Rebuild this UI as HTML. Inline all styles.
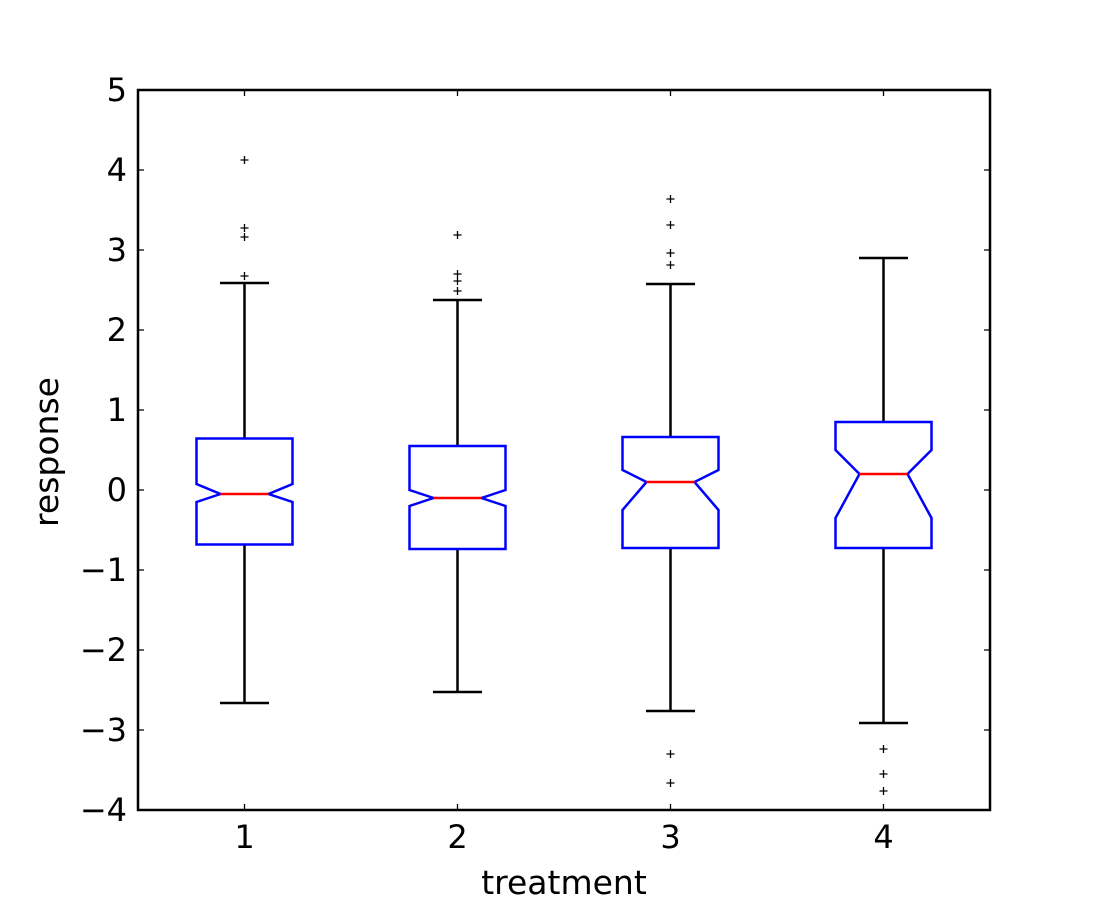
<!DOCTYPE html>
<html><head><meta charset="utf-8"><style>
body{margin:0;background:#fff}
svg text{font-family:"DejaVu Sans","Liberation Sans",sans-serif;fill:#000}
</style></head><body>
<svg width="1100" height="900" xmlns="http://www.w3.org/2000/svg">
<rect width="1100" height="900" fill="#fff"/>
<g fill="none" stroke-width="2.5">
<g stroke="#000">
<path d="M244.5 438V283M220 283H269M244.5 545V703M220 703H269"/>
<path d="M457.5 446V300M433 300H482M457.5 549V692M433 692H482"/>
<path d="M670.5 437V284M646 284H695M670.5 548V711M646 711H695"/>
<path d="M883.5 422V258M859 258H908M883.5 548V723M859 723H908"/>
</g>
<g stroke="#00f">
<path d="M196.5 438.5H292.5V484L268.5 494L292.5 502V544.5H196.5V502L220.5 494L196.5 484Z"/>
<path d="M409.5 446H505.5V490L481.5 498L505.5 506V549H409.5V506L433.5 498L409.5 490Z"/>
<path d="M622.5 437H718.5V470L694.5 482L718.5 510V548H622.5V510L646.5 482L622.5 470Z"/>
<path d="M835.5 422H931.5V450L907.5 474L931.5 518V548H835.5V518L859.5 474L835.5 450Z"/>
</g>
<g stroke="#f00">
<path d="M220.5 494H268.5M433.5 498H481.5M646.5 482H694.5M859.5 474H907.5"/>
</g>
</g>
<g stroke="#000" stroke-width="1.3">
<path d="M240.5 160h8M244.5 156v8M240.5 228h8M244.5 224v8M240.5 237h8M244.5 233v8M240.5 276h8M244.5 272v8"/>
<path d="M453.5 235h8M457.5 231v8M453.5 274h8M457.5 270v8M453.5 281h8M457.5 277v8M453.5 291h8M457.5 287v8"/>
<path d="M666.5 199h8M670.5 195v8M666.5 225h8M670.5 221v8M666.5 253h8M670.5 249v8M666.5 265h8M670.5 261v8M666.5 754h8M670.5 750v8M666.5 783h8M670.5 779v8"/>
<path d="M879.5 749h8M883.5 745v8M879.5 774h8M883.5 770v8M879.5 791h8M883.5 787v8"/>
</g>
<g stroke="#000" stroke-width="1.3">
<path d="M244.5 810v-6M457.5 810v-6M670.5 810v-6M883.5 810v-6M244.5 90v6M457.5 90v6M670.5 90v6M883.5 90v6"/>
<path d="M138 170h6M138 250h6M138 330h6M138 410h6M138 490h6M138 570h6M138 650h6M138 730h6M990 170h-6M990 250h-6M990 330h-6M990 410h-6M990 490h-6M990 570h-6M990 650h-6M990 730h-6"/>
</g>
<rect x="138" y="90" width="852" height="720" fill="none" stroke="#000" stroke-width="2.5"/>
<g font-size="32" text-anchor="end">
<text x="127" y="101">5</text><text x="127" y="181">4</text><text x="127" y="261">3</text><text x="127" y="341">2</text><text x="127" y="421">1</text><text x="127" y="501">0</text><text x="127" y="581">−1</text><text x="127" y="661">−2</text><text x="127" y="741">−3</text><text x="127" y="821">−4</text>
</g>
<g font-size="32" text-anchor="middle">
<text x="244.5" y="848">1</text><text x="457.5" y="848">2</text><text x="670.5" y="848">3</text><text x="883.5" y="848">4</text>
</g>
<g font-size="33" text-anchor="middle">
<text x="564" y="894">treatment</text>
<text transform="translate(58,452) rotate(-90)">response</text>
</g>
</svg>
</body></html>
